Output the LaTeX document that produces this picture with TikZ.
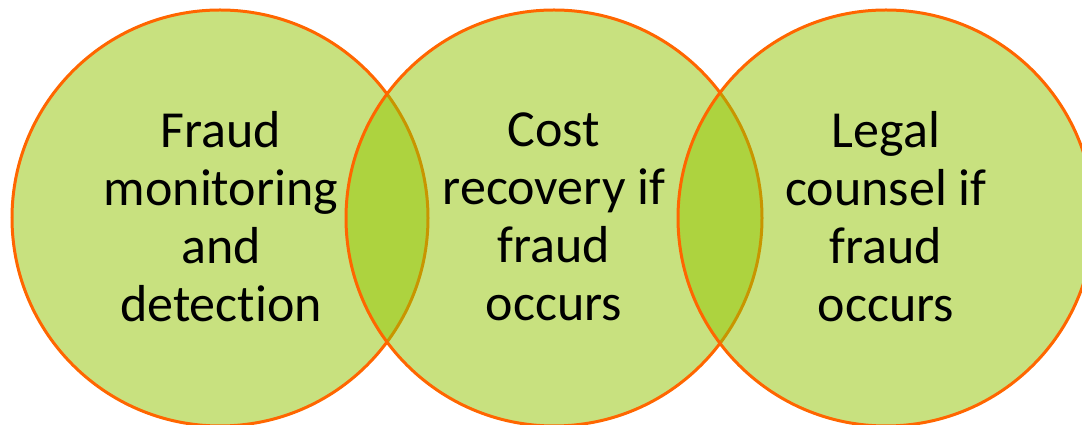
\documentclass[tikz,border=0pt]{standalone}
\usepackage{fontspec}
\setmainfont{Carlito}[Ligatures={NoCommon}]
\definecolor{vgreen}{RGB}{146,196,0}
\definecolor{vorange}{RGB}{255,102,0}
\begin{document}
\begin{tikzpicture}[x=1pt,y=1pt,
  venn/.style={circle,minimum size=416pt,inner sep=0pt,fill=vgreen,fill opacity=0.5,draw=vorange,draw opacity=1,line width=3pt},
  lbl/.style={align=center,font=\fontsize{52}{58}\selectfont,text=black,inner sep=0pt}]
\useasboundingbox (0,0) rectangle (1082,425);
\clip (0,0) rectangle (1082,425);
\node[venn] (c1) at (220,207) {};
\node[venn] (c2) at (554,207) {};
\node[venn] (c3) at (886,207) {};
\node[lbl] (t1) at (221,208) {Fraud\\monitoring\\and\\detection};
\node[lbl] (t2) at (554,208) {Cost\\recovery if\\fraud\\occurs};
\node[lbl] (t3) at (886,208) {Legal\\counsel if\\fraud\\occurs};
\end{tikzpicture}
\end{document}
